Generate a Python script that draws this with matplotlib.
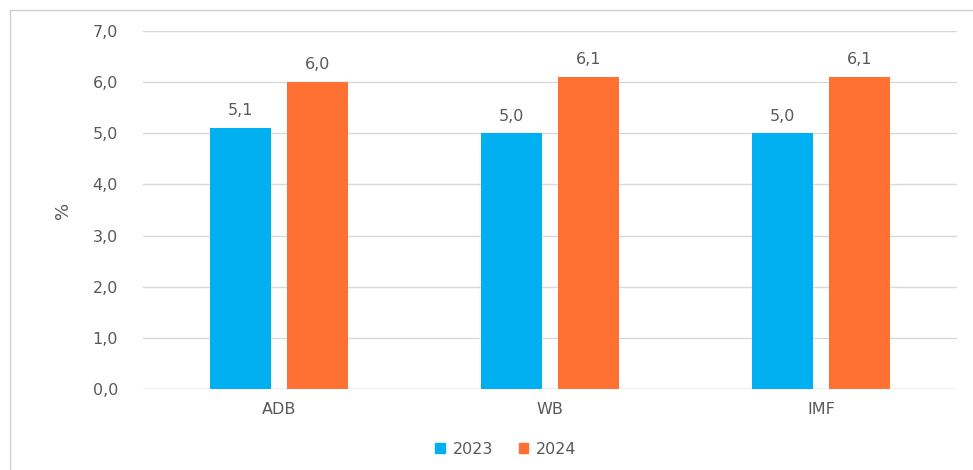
import matplotlib
matplotlib.use("Agg")
import matplotlib.pyplot as plt
from matplotlib.lines import Line2D
from matplotlib.patches import Patch
import numpy as np

categories = ["ADB", "WB", "IMF"]
series_names = ["2023", "2024"]
values_2023 = [5.1, 5.0, 5.0]
values_2024 = [6.0, 6.1, 6.1]
yticks = [0, 1, 2, 3, 4, 5, 6, 7]

blue = "#00B0F0"
orange = "#FF7033"
text_col = "#595959"
grid_col = "#D9D9D9"

plt.rcParams['font.family'] = ['DejaVu Sans']
fs = 11.5

W, H = 973, 470
fig = plt.figure(figsize=(W / 100, H / 100), dpi=100)
ax = fig.add_axes([143 / W, 1 - 389 / H, (957 - 143) / W, (389 - 31) / H])

x = np.arange(len(categories))
bw = 0.225
gap = 0.059
off = (bw + gap) / 2
b1 = ax.bar(x - off, values_2023, bw, color=blue, zorder=3)
b2 = ax.bar(x + off, values_2024, bw, color=orange, zorder=3)

for bars, vals in ((b1, values_2023), (b2, values_2024)):
    for r, v in zip(bars, vals):
        ax.annotate(f"{v:.1f}".replace(".", ","),
                    (r.get_x() + r.get_width() / 2, r.get_height()),
                    xytext=(0, 7), textcoords="offset points",
                    ha="center", va="bottom", fontsize=fs, color=text_col)

ax.set_xlim(-0.5, len(categories) - 0.5)
ax.set_ylim(0, 7)
ax.set_yticks(yticks)
ax.set_yticklabels([f"{t:.1f}".replace(".", ",") for t in yticks])
ax.set_xticks(x)
ax.set_xticklabels(categories)
ax.tick_params(axis="both", length=0, colors=text_col, labelsize=fs)
ax.tick_params(axis="y", pad=18)
ax.tick_params(axis="x", pad=9)
ax.grid(axis="y", color=grid_col, linewidth=1, zorder=0)
for s in ax.spines.values():
    s.set_visible(False)
ax.axhline(0, color=grid_col, linewidth=1, zorder=2)

fig.text(63 / W, 1 - 210 / H, "%", rotation=90, ha="center", va="center",
         fontsize=13, color=text_col)

handles = [Patch(color=blue, label=series_names[0]),
           Patch(color=orange, label=series_names[1])]
fig.legend(handles=handles, loc="center", bbox_to_anchor=(506 / W, 1 - 449 / H),
           ncol=2, frameon=False, fontsize=fs, labelcolor=text_col,
           handlelength=0.6, handleheight=0.6, handletextpad=0.5, columnspacing=1.6)

# outer border (top and left visible)
fig.add_artist(Line2D([10 / W, 1], [1 - 10 / H, 1 - 10 / H], color="#D0D0D0", linewidth=1))
fig.add_artist(Line2D([10 / W, 10 / W], [0, 1 - 10 / H], color="#D0D0D0", linewidth=1))

fig.savefig("out.png", dpi=100)
